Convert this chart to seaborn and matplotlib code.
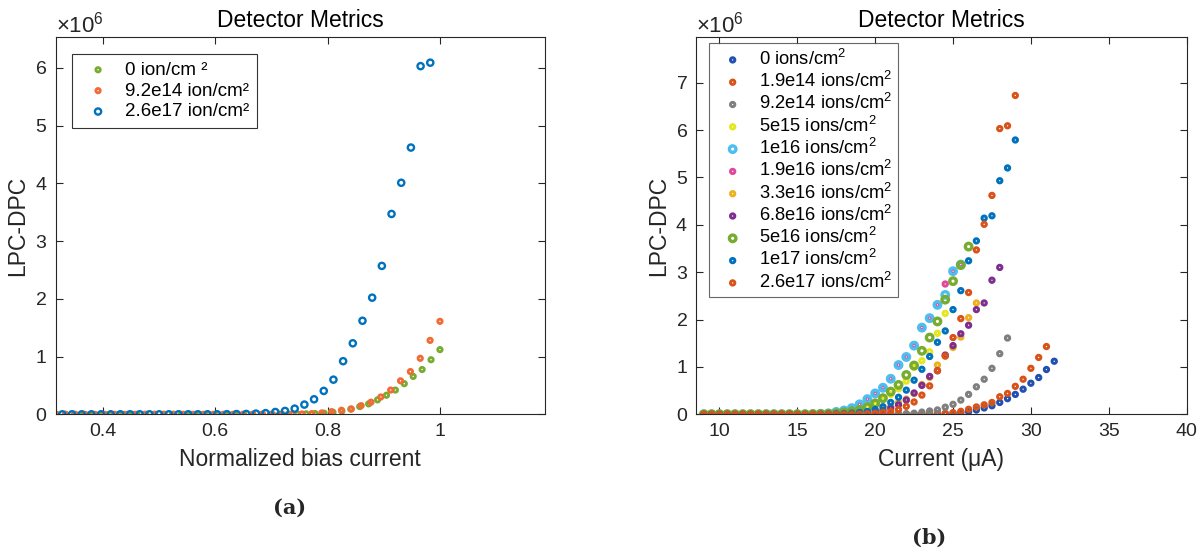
import numpy as np
import matplotlib
matplotlib.use('Agg')
import matplotlib.pyplot as plt
import matplotlib.ticker as mticker
import seaborn as sns

# bias current sweep (uA), same for every fluence
current_uA = [9.0, 9.5, 10.0, 10.5, 11.0, 11.5, 12.0, 12.5, 13.0, 13.5,
              14.0, 14.5, 15.0, 15.5, 16.0, 16.5, 17.0, 17.5, 18.0, 18.5,
              19.0, 19.5, 20.0, 20.5, 21.0, 21.5, 22.0, 22.5, 23.0, 23.5,
              24.0, 24.5, 25.0, 25.5, 26.0, 26.5, 27.0, 27.5, 28.0, 28.5,
              29.0, 29.5, 30.0, 30.5, 31.0, 31.5]

# LPC-DPC in units of 1e6, starting at 9.0 uA
lpc_0 = [0] * 27 + [0.002, 0.003, 0.005, 0.008, 0.012, 0.02, 0.035, 0.056, 0.09,
                    0.134, 0.18, 0.25, 0.33, 0.42, 0.53, 0.656, 0.776, 0.945, 1.12]
lpc_19e14 = [0] * 26 + [0.002, 0.003, 0.005, 0.007, 0.01, 0.02, 0.035, 0.063, 0.106,
                        0.155, 0.20, 0.25, 0.37, 0.44, 0.59, 0.74, 0.97, 1.20, 1.43]
lpc_92e14 = [0] * 24 + [0.003, 0.006, 0.012, 0.023, 0.046, 0.07, 0.092, 0.15, 0.21,
                        0.30, 0.42, 0.58, 0.74, 0.97, 1.28, 1.61]
lpc_5e15 = [0] * 15 + [0.005, 0.01, 0.02, 0.035, 0.06, 0.10, 0.15, 0.21, 0.31,
                       0.42, 0.54, 0.70, 0.99, 1.13, 1.32, 1.71, 2.13]
lpc_1e16 = [0] * 14 + [0.005, 0.01, 0.02, 0.05, 0.08, 0.13, 0.21, 0.32, 0.44, 0.56,
                       0.75, 1.04, 1.21, 1.45, 1.83, 2.03, 2.31, 2.52, 3.02, 3.16]
lpc_19e16 = [0] * 14 + [0.005, 0.01, 0.02, 0.05, 0.08, 0.13, 0.21, 0.32, 0.44, 0.56,
                        0.75, 1.04, 1.21, 1.45, 1.83, 2.03, 2.31, 2.75, 3.02, 3.16]
lpc_33e16 = [0] * 16 + [0.005, 0.01, 0.02, 0.03, 0.04, 0.05, 0.07, 0.11, 0.16, 0.25,
                        0.32, 0.44, 0.63, 0.78, 1.04, 1.23, 1.41, 1.63, 2.04, 2.35]
lpc_68e16 = [0] * 18 + [0.005, 0.01, 0.02, 0.03, 0.05, 0.08, 0.13, 0.20, 0.30, 0.45,
                        0.61, 0.80, 0.92, 1.25, 1.45, 1.70, 1.88, 2.21, 2.35, 2.83, 3.10]
lpc_5e16 = [0] * 14 + [0.003, 0.006, 0.01, 0.02, 0.04, 0.06, 0.09, 0.15, 0.23, 0.34, 0.48,
                       0.62, 0.83, 1.03, 1.34, 1.62, 1.96, 2.42, 2.81, 3.15, 3.54]
lpc_1e17 = [0] * 15 + [0.003, 0.006, 0.01, 0.015, 0.025, 0.04, 0.06, 0.10, 0.16, 0.25,
                       0.36, 0.51, 0.72, 0.95, 1.22, 1.52, 1.76, 2.21, 2.61, 3.24,
                       3.66, 4.14, 4.19, 4.93, 5.20, 5.79]
lpc_26e17 = [0] * 18 + [0.002, 0.004, 0.006, 0.012, 0.02, 0.04, 0.058, 0.098, 0.168,
                        0.26, 0.405, 0.60, 0.92, 1.23, 1.62, 2.02, 2.57, 3.47, 4.01,
                        4.62, 6.03, 6.09, 6.73]

right_labels = ['0 ions/cm$^2$', '1.9e14 ions/cm$^2$', '9.2e14 ions/cm$^2$',
                '5e15 ions/cm$^2$', '1e16 ions/cm$^2$', '1.9e16 ions/cm$^2$',
                '3.3e16 ions/cm$^2$', '6.8e16 ions/cm$^2$', '5e16 ions/cm$^2$',
                '1e17 ions/cm$^2$', '2.6e17 ions/cm$^2$']
right_values = [lpc_0, lpc_19e14, lpc_92e14, lpc_5e15, lpc_1e16, lpc_19e16,
                lpc_33e16, lpc_68e16, lpc_5e16, lpc_1e17, lpc_26e17]
right_colors = ['#2150B0', '#D95319', '#7F7F7F', '#E6E61E', '#4DBEEE', '#E0489C',
                '#EDB120', '#7E2F8E', '#77AC30', '#0072BD', '#D95319']

# left panel: bias current normalized to switching current
left_labels = ['0 ion/cm \u00b2', '9.2e14 ion/cm\u00b2', '2.6e17 ion/cm\u00b2']
left_values = [lpc_0, lpc_92e14, lpc_26e17[:-1]]
left_isw = [31.5, 28.5, 29.0]
left_colors = ['#77AC30', '#F26A35', '#0072BD']

SCALE = 1e6

sns.set_style('ticks')
plt.rcParams['font.family'] = ['Liberation Sans', 'DejaVu Sans']
plt.rcParams['mathtext.fontset'] = 'custom'
plt.rcParams['mathtext.rm'] = 'Liberation Sans'
plt.rcParams['mathtext.it'] = 'Liberation Sans:italic'
plt.rcParams['mathtext.bf'] = 'Liberation Sans:bold'

fig = plt.figure(figsize=(12.02, 5.57), dpi=100)
ax1 = fig.add_axes([0.0463, 0.2562, 0.4071, 0.6779])
ax2 = fig.add_axes([0.5791, 0.2562, 0.4081, 0.6779])

GREY = '#262626'

# left panel
for i, (lab, vals, isw, col) in enumerate(zip(left_labels, left_values, left_isw, left_colors)):
    x = np.array(current_uA[:len(vals)]) / isw
    y = np.array(vals) * SCALE
    big = (i == 2)
    sns.scatterplot(x=x, y=y, ax=ax1, marker='o', color=col, facecolor='none',
                    edgecolor=col, s=20 if big else 10, linewidth=1.7 if big else 2.0,
                    label=lab)

# right panel
for lab, vals, col in zip(right_labels, right_values, right_colors):
    x = np.array(current_uA[:len(vals)])
    y = np.array(vals) * SCALE
    big = lab.startswith('1e16') or lab.startswith('5e16')
    # magenta points sit underneath the cyan rings in the original
    z = 1.9 if lab.startswith('1.9e16') else 2
    sns.scatterplot(x=x, y=y, ax=ax2, marker='o', color=col, facecolor='none',
                    edgecolor=col, s=22 if big else 10, linewidth=2.4 if big else 2.1,
                    label=lab, zorder=z)

ax1.set_xlim(18 / 57, 1.187)
ax1.set_ylim(0, 6.54e6)
ax1.set_xticks([0.4, 0.6, 0.8, 1.0])
ax2.set_xlim(8.5, 40)
ax2.set_ylim(0, 7.97e6)
ax2.set_xticks([10, 15, 20, 25, 30, 35, 40])

for ax, xl in [(ax1, 'Normalized bias current'), (ax2, 'Current (\u03bcA)')]:
    ax.yaxis.set_major_locator(mticker.MultipleLocator(1e6))
    fmt = mticker.ScalarFormatter(useMathText=True)
    fmt.set_powerlimits((0, 0))
    ax.yaxis.set_major_formatter(fmt)
    ax.xaxis.set_major_formatter(mticker.FuncFormatter(lambda v, p: f'{v:g}'))
    ax.yaxis.get_offset_text().set_fontsize(16)
    ax.yaxis.get_offset_text().set_color(GREY)
    ax.tick_params(direction='in', top=True, right=True, length=5, width=0.8,
                   color=GREY, labelcolor=GREY, labelsize=14, pad=6)
    for sp in ax.spines.values():
        sp.set_color(GREY)
        sp.set_linewidth(0.8)
    ax.set_title('Detector Metrics', fontsize=16.5, color='black', pad=7)
    ax.set_xlabel(xl, fontsize=16.5, color=GREY, labelpad=6)
    ax.set_ylabel('LPC-DPC', fontsize=16.5, color=GREY, labelpad=4)

leg1 = ax1.legend(loc='upper left', bbox_to_anchor=(0.033, 0.954), borderaxespad=0,
                  fontsize=13.5, frameon=True, fancybox=False, edgecolor='black',
                  handlelength=2.0, handletextpad=0.45, borderpad=0.4,
                  labelspacing=0.2, scatterpoints=1)
leg1.get_frame().set_linewidth(0.8)
leg2 = ax2.legend(loc='upper left', bbox_to_anchor=(0.026, 0.983), borderaxespad=0,
                  fontsize=13.2, frameon=True, fancybox=False, edgecolor='#404040',
                  handlelength=2.0, handletextpad=0.45, borderpad=0.3,
                  labelspacing=0.12, scatterpoints=1)
leg2.get_frame().set_linewidth(0.8)
for leg in (leg1, leg2):
    for t in leg.get_texts():
        t.set_color('black')

fig.text(0.2413, 0.088, '(a)', ha='center', va='center',
         fontsize=15, fontweight='bold', family='DejaVu Serif')
fig.text(0.773, 0.034, '(b)', ha='center', va='center',
         fontsize=15, fontweight='bold', family='DejaVu Serif')

fig.savefig('out.png', dpi=100)
